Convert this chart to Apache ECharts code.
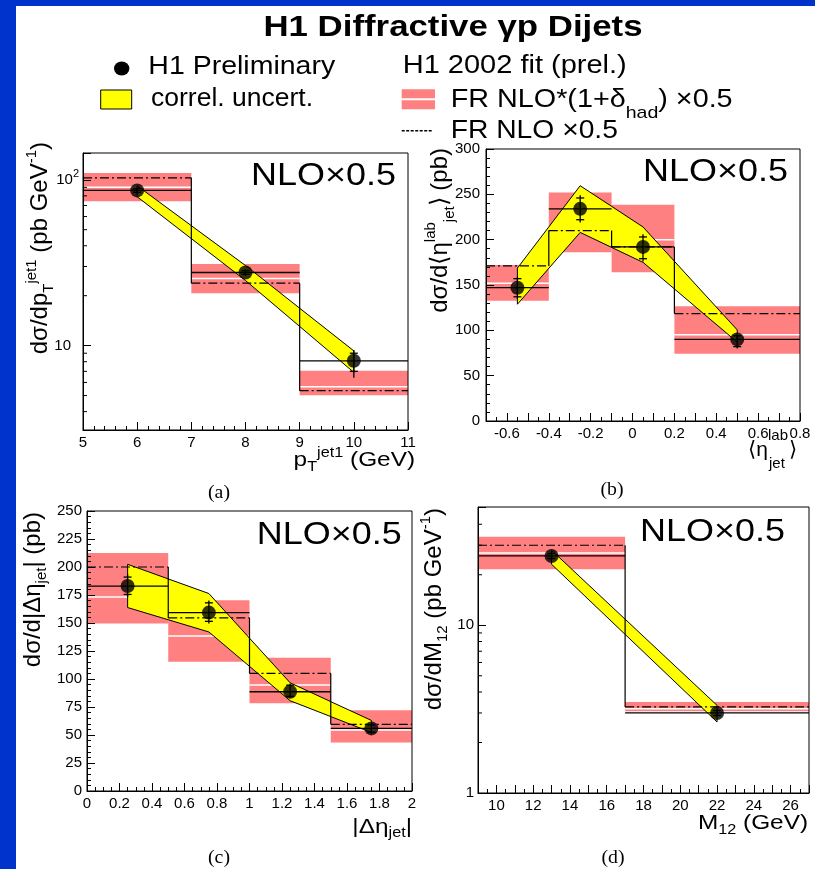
<!DOCTYPE html>
<html><head><meta charset="utf-8">
<script src="https://cdn.jsdelivr.net/npm/echarts@6.0.0/dist/echarts.min.js"></script>
<style>html,body{margin:0;padding:0;background:#fff;}#chart{width:815px;height:869px;}</style>
</head><body><div id="chart"></div>
<script>
// ---------------- DATA ----------------
// Panel (a): d sigma / d pT(jet1)
const aBinEdges=[5,7,9,11];
const aX=[6,8,10];
const aY=[86.3,27.6,8.1];
const aTotLo=[82.5,26.3,6.4];
const aTotHi=[90.0,29.0,9.4];
const aStatLo=[84.0,26.9,7.0];
const aStatHi=[88.5,28.3,9.0];
const aCorrLo=[79.0,24.7,6.9];
const aCorrHi=[92.0,30.4,9.3];
const aHadLo=[74.3,20.7,5.03];
const aHadHi=[109.7,31.1,7.06];
const aHadMid=[90.0,25.4,5.66];
const aNlo=[102.8,23.8,5.35];
const aMinorTicks=[4,5,6,7,8,9,20,30,40,50,60,70,80,90];

// Panel (b): d sigma / d <eta_jet^lab>
const bBinEdges=[-0.7,-0.4,-0.1,0.2,0.8];
const bX=[-0.55,-0.25,0.05,0.5];
const bY=[147,234,192,90];
const bTotLo=[135,219,176,80];
const bTotHi=[159,249,206,95];
const bStatLo=[137,222,179,82];
const bStatHi=[157,246,203,94];
const bCorrLo=[128.8,208,175,87];
const bCorrHi=[168.6,259.5,214,100.5];
const bHadLo=[132.5,186,164,74.3];
const bHadHi=[172,252,238.5,126.6];
const bHadMid=[152,213,200,95];
const bNlo=[171,210,192,118.5];

// Panel (c): d sigma / d |delta eta_jet|
const cBinEdges=[0,0.5,1,1.5,2];
const cX=[0.25,0.75,1.25,1.75];
const cY=[183,159.3,88.6,55.9];
const cTotLo=[173.3,149.5,83,51];
const cTotHi=[193.5,170,96,60];
const cStatLo=[175.5,151.5,84.5,52.5];
const cStatHi=[191,168,94.5,59];
const cCorrLo=[163.8,142,80.6,52.3];
const cCorrHi=[202.4,176.3,96.6,63];
const cHadLo=[149.5,115.3,78.3,43.4];
const cHadHi=[212.5,170.3,119,72.2];
const cHadMid=[173.3,138.3,94.6,54.4];
const cNlo=[200,154.5,105,59.5];

// Panel (d): d sigma / d M12
const dBinEdges=[9,17,27];
const dX=[13,22];
const dY=[25.9,3.0];
const dTotLo=[24.6,2.85];
const dTotHi=[27.2,3.15];
const dStatLo=[25.0,2.9];
const dStatHi=[26.8,3.1];
const dCorrLo=[23.1,2.65];
const dCorrHi=[28.0,3.33];
const dHadLo=[21.6,3.07];
const dHadHi=[33.7,3.49];
const dHadMid=[27.0,3.18];
const dNlo=[30.0,3.26];
const dMinorTicks=[2,3,4,5,6,7,8,9,20,30,40];

// ---------------- STYLE / BUILDERS ----------------
const FONT='"Liberation Sans", Arial, Helvetica, sans-serif';
const SERIF='"Liberation Serif", "Times New Roman", serif';
const RED='#ff8080', YEL='#ffff00', BLUE='#0033cc';

function bandSeries(g, edges, lo, hi, mid){
  return {type:'custom', xAxisIndex:g, yAxisIndex:g, z:2, clip:true, silent:true,
    encode:{x:0,y:2},
    data: lo.map((v,i)=>[edges[i],edges[i+1],v,hi[i],mid[i]]),
    renderItem(p,api){
      const tl=api.coord([api.value(0),api.value(3)]);
      const br=api.coord([api.value(1),api.value(2)]);
      const m=api.coord([api.value(0),api.value(4)]);
      return {type:'group',children:[
        {type:'rect',shape:{x:tl[0],y:tl[1],width:br[0]-tl[0],height:br[1]-tl[1]},style:{fill:RED}},
        {type:'line',shape:{x1:tl[0],y1:m[1],x2:br[0],y2:m[1]},style:{stroke:'#ffffff',lineWidth:1.5}}
      ]};
    }};
}
function corrSeries(g, xs, lo, hi){
  return {type:'custom', xAxisIndex:g, yAxisIndex:g, z:3, clip:true, silent:true,
    encode:{x:0,y:1},
    data: xs.map((x,i)=>[x,lo[i],hi[i]]),
    renderItem(p,api){
      if(p.dataIndex!==0) return null;
      const pts=[];
      for(let i=0;i<xs.length;i++) pts.push(api.coord([xs[i],hi[i]]));
      for(let i=xs.length-1;i>=0;i--) pts.push(api.coord([xs[i],lo[i]]));
      return {type:'polygon',shape:{points:pts},style:{fill:YEL,stroke:'#000',lineWidth:1}};
    }};
}
function nloSeries(g, edges, vals){
  return {type:'custom', xAxisIndex:g, yAxisIndex:g, z:4, clip:true, silent:true,
    encode:{x:0,y:2},
    data: vals.map((v,i)=>[edges[i],edges[i+1],v,i>0?vals[i-1]:v]),
    renderItem(p,api){
      const a=api.coord([api.value(0),api.value(2)]);
      const b=api.coord([api.value(1),api.value(2)]);
      const q=api.coord([api.value(0),api.value(3)]);
      return {type:'group',children:[
        {type:'line',shape:{x1:a[0],y1:a[1],x2:b[0],y2:b[1]},style:{stroke:'#000',lineWidth:1.2,lineDash:[9,3,2,3]}},
        {type:'line',shape:{x1:q[0],y1:q[1],x2:a[0],y2:a[1]},style:{stroke:'#000',lineWidth:1.2}}
      ]};
    }};
}
function dataSeries(g, edges, xs, ys, tLo, tHi, sLo, sHi){
  return {type:'custom', xAxisIndex:g, yAxisIndex:g, z:5, clip:true, silent:true,
    encode:{x:0,y:1},
    data: xs.map((x,i)=>[x,ys[i],edges[i],edges[i+1],tLo[i],tHi[i],sLo[i],sHi[i]]),
    renderItem(p,api){
      const x=api.value(0), y=api.value(1);
      const l=api.coord([api.value(2),y]), r=api.coord([api.value(3),y]);
      const t0=api.coord([x,api.value(4)]), t1=api.coord([x,api.value(5)]);
      const s0=api.coord([x,api.value(6)]), s1=api.coord([x,api.value(7)]);
      const st={stroke:'#000',lineWidth:1.3};
      return {type:'group',children:[
        {type:'line',shape:{x1:l[0],y1:l[1],x2:r[0],y2:r[1]},style:st},
        {type:'line',shape:{x1:t0[0],y1:t0[1],x2:t1[0],y2:t1[1]},style:st},
        {type:'line',shape:{x1:s0[0]-4,y1:s0[1],x2:s0[0]+4,y2:s0[1]},style:st},
        {type:'line',shape:{x1:s1[0]-4,y1:s1[1],x2:s1[0]+4,y2:s1[1]},style:st}
      ]};
    }};
}
function pointSeries(g, xs, ys){
  return {type:'scatter', xAxisIndex:g, yAxisIndex:g, z:6, silent:true,
    symbol:'circle', symbolSize:14, itemStyle:{color:'#000'},
    data: xs.map((x,i)=>[x,ys[i]])};
}
function minorSeries(g, xmin, vals){
  return {type:'custom', xAxisIndex:g, yAxisIndex:g, z:11, silent:true,
    encode:{x:0,y:1},
    data: vals.map(v=>[xmin,v]),
    renderItem(p,api){
      const c=api.coord([api.value(0),api.value(1)]);
      return {type:'line',shape:{x1:c[0],y1:c[1],x2:c[0]+4,y2:c[1]},style:{stroke:'#000',lineWidth:1}};
    }};
}

const tick={show:true,inside:true,length:8,lineStyle:{color:'#000',width:1}};
const minor=n=>({show:true,splitNumber:n,length:4,lineStyle:{color:'#000',width:1}});
const aline={show:true,onZero:false,lineStyle:{color:'#000',width:1}};
const lab=e=>Object.assign({color:'#000',fontSize:15,fontFamily:FONT,margin:5},e||{});
function base(g, extra){
  return Object.assign({gridIndex:g, z:10, axisLine:aline, axisTick:tick, splitLine:{show:false}, axisLabel:lab()}, extra);
}
function isPow(v){const l=Math.log10(v);return Math.abs(l-Math.round(l))<1e-6;}

const xAxes=[
  base(0,{type:'value',min:5,max:11,interval:1,minorTick:minor(5)}),
  base(1,{type:'value',min:-0.7,max:0.8,interval:0.1,minorTick:minor(2),
    axisLabel:lab({formatter:v=>{const t=Math.round(v*10);return (t%2)?'':String(t/10);}})}),
  base(2,{type:'value',min:0,max:2,interval:0.2,minorTick:minor(4)}),
  base(3,{type:'value',min:9,max:27,interval:1,minorTick:minor(2),
    axisLabel:lab({formatter:v=>{const t=Math.round(v);return (t%2)?'':String(t);}})})
];
const yAxes=[
  base(0,{type:'log',logBase:10,min:3.1,max:145,
    axisLabel:lab({margin:4,formatter:v=>{if(!isPow(v))return '';const r=Math.round(Math.log10(v));return r===1?'{n|10}{w| }':'{n|10}{e|'+r+'}';},
      rich:{n:{fontSize:15,fontFamily:FONT,lineHeight:22},e:{fontSize:11,fontFamily:FONT,lineHeight:11,verticalAlign:'top'},w:{width:8,fontSize:15}}})}),
  base(1,{type:'value',min:0,max:300,interval:50,minorTick:minor(5),axisLabel:lab({margin:6})}),
  base(2,{type:'value',min:0,max:250,interval:25,minorTick:minor(5)}),
  base(3,{type:'log',logBase:10,min:1,max:50.7,
    axisLabel:lab({margin:4,formatter:v=>{if(!isPow(v))return '';return String(Math.round(v));}})})
];
const gbase={show:true,backgroundColor:'transparent',borderColor:'#000',borderWidth:1,z:20};
const grids=[
  Object.assign({left:83,top:153,width:325,height:277},gbase),
  Object.assign({left:486,top:149,width:314,height:272},gbase),
  Object.assign({left:87,top:511,width:325,height:280},gbase),
  Object.assign({left:478,top:507,width:331,height:286},gbase)
];

const series=[
  bandSeries(0,aBinEdges,aHadLo,aHadHi,aHadMid), corrSeries(0,aX,aCorrLo,aCorrHi), nloSeries(0,aBinEdges,aNlo),
  dataSeries(0,aBinEdges,aX,aY,aTotLo,aTotHi,aStatLo,aStatHi), pointSeries(0,aX,aY), minorSeries(0,5,aMinorTicks),
  bandSeries(1,bBinEdges,bHadLo,bHadHi,bHadMid), corrSeries(1,bX,bCorrLo,bCorrHi), nloSeries(1,bBinEdges,bNlo),
  dataSeries(1,bBinEdges,bX,bY,bTotLo,bTotHi,bStatLo,bStatHi), pointSeries(1,bX,bY),
  bandSeries(2,cBinEdges,cHadLo,cHadHi,cHadMid), corrSeries(2,cX,cCorrLo,cCorrHi), nloSeries(2,cBinEdges,cNlo),
  dataSeries(2,cBinEdges,cX,cY,cTotLo,cTotHi,cStatLo,cStatHi), pointSeries(2,cX,cY),
  bandSeries(3,dBinEdges,dHadLo,dHadHi,dHadMid), corrSeries(3,dX,dCorrLo,dCorrHi), nloSeries(3,dBinEdges,dNlo),
  dataSeries(3,dBinEdges,dX,dY,dTotLo,dTotHi,dStatLo,dStatHi), pointSeries(3,dX,dY), minorSeries(3,9,dMinorTicks)
];

// ---------------- TEXT / LEGEND GRAPHICS ----------------
function rs(fs, ss, extra, ff){
  ff=ff||FONT;
  return {m:{fontSize:fs,fontFamily:ff,lineHeight:fs+extra},
          sub:{fontSize:ss,fontFamily:ff,lineHeight:ss,verticalAlign:'bottom'},
          sup:{fontSize:ss,fontFamily:ff,lineHeight:ss,verticalAlign:'top'}};
}
function T(text,x,y,o){
  o=o||{};
  const st={text,fill:'#000',fontFamily:o.ff||FONT,fontSize:o.fs||25,fontWeight:o.fw||'normal',
    align:o.align||'left',verticalAlign:'middle'};
  if(o.rich) st.rich=o.rich;
  return {type:'text',x,y,rotation:o.rot||0,scaleX:o.sx||1,scaleY:o.sy||1,z:100,silent:true,style:st};
}
const R90=Math.PI/2;
const G=[
  {type:'rect',shape:{x:0,y:0,width:16,height:869},style:{fill:BLUE},z:200,silent:true},
  {type:'rect',shape:{x:0,y:0,width:815,height:6},style:{fill:BLUE},z:200,silent:true},
  T('H1 Diffractive \u03b3p Dijets',453,27.5,{fs:30,fw:'bold',align:'center',sx:1.16}),
  // legend
  {type:'circle',x:121.7,y:68.5,scaleX:1.1,shape:{cx:0,cy:0,r:7},style:{fill:'#000'},z:100,silent:true},
  T('H1 Preliminary',148.3,66.7,{fs:25,sx:1.14}),
  {type:'rect',shape:{x:100.7,y:90,width:31,height:19},style:{fill:YEL,stroke:'#000',lineWidth:1},z:100,silent:true},
  T('correl. uncert.',151,99,{fs:25,sx:1.06}),
  T('H1 2002 fit (prel.)',402.7,66.5,{fs:25,sx:1.16}),
  {type:'rect',shape:{x:401.7,y:89.3,width:33.3,height:20},style:{fill:RED},z:100,silent:true},
  {type:'line',shape:{x1:401.7,y1:99.3,x2:435,y2:99.3},style:{stroke:'#fff',lineWidth:2},z:101,silent:true},
  T('{m|FR NLO*(1+\u03b4}{sub|had}{m|) \u00d70.5}',450.7,100,{fs:25,sx:1.15,rich:rs(25,17,18)}),
  {type:'line',shape:{x1:401.7,y1:130.7,x2:433,y2:130.7},style:{stroke:'#000',lineWidth:1.5,lineDash:[3,1.5]},z:100,silent:true},
  T('FR NLO \u00d70.5',450.7,131,{fs:25,sx:1.13}),
  // NLO x 0.5 labels
  T('NLO\u00d70.5',396,176,{fs:31,sx:1.16,align:'right'}),
  T('NLO\u00d70.5',788,172.5,{fs:31,sx:1.16,align:'right'}),
  T('NLO\u00d70.5',401.7,535,{fs:31,sx:1.16,align:'right'}),
  T('NLO\u00d70.5',785,532.5,{fs:31,sx:1.16,align:'right'}),
  // x axis titles
  T('{m|p}{sub|T}{sup|jet1}{m| (GeV)}',415,460,{fs:21,sx:1.16,align:'right',rich:rs(21,14,7)}),
  T('\u27e8\u03b7',768,450,{fs:21,align:'right'}),
  T('lab',768,436,{fs:15}),
  T('jet',769,464,{fs:15}),
  T('\u27e9',789,450,{fs:21}),
  T('{m||\u0394\u03b7}{sub|jet}{m||}',412,827,{fs:21,sx:1.16,align:'right',rich:rs(21,14,6)}),
  T('{m|M}{sub|12}{m| (GeV)}',808,823,{fs:21,sx:1.16,align:'right',rich:rs(21,14,8)}),
  // y axis titles (rotated)
  T('{m|d\u03c3/dp}{sub|T}{sup|jet1}{m| (pb GeV}{sup|-1}{m|)}',40,142,{fs:24,rot:R90,align:'right',rich:rs(24,15,8)}),
  T('{m|d\u03c3/d\u27e8\u03b7}{sup|lab}{sub|jet}{m|\u27e9 (pb)}',440,148,{fs:24,rot:R90,align:'right',rich:rs(24,15,10)}),
  T('{m|d\u03c3/d|\u0394\u03b7}{sub|jet}{m|| (pb)}',33,512,{fs:24,rot:R90,align:'right',rich:rs(24,15,8)}),
  T('{m|d\u03c3/dM}{sub|12}{m| (pb GeV}{sup|-1}{m|)}',434,508,{fs:24,rot:R90,align:'right',rich:rs(24,15,8)}),
  // panel labels
  T('(a)',219,493,{fs:18,ff:SERIF,align:'center',sx:1.1}),
  T('(b)',612,490,{fs:18,ff:SERIF,align:'center',sx:1.1}),
  T('(c)',219,858,{fs:18,ff:SERIF,align:'center',sx:1.1}),
  T('(d)',613,858,{fs:18,ff:SERIF,align:'center',sx:1.1})
];

const chart=echarts.init(document.getElementById('chart'));
chart.setOption({
  backgroundColor:'#ffffff',
  animation:false,
  grid:grids,
  xAxis:xAxes,
  yAxis:yAxes,
  series:series,
  graphic:{elements:G}
});
</script>
</body></html>
